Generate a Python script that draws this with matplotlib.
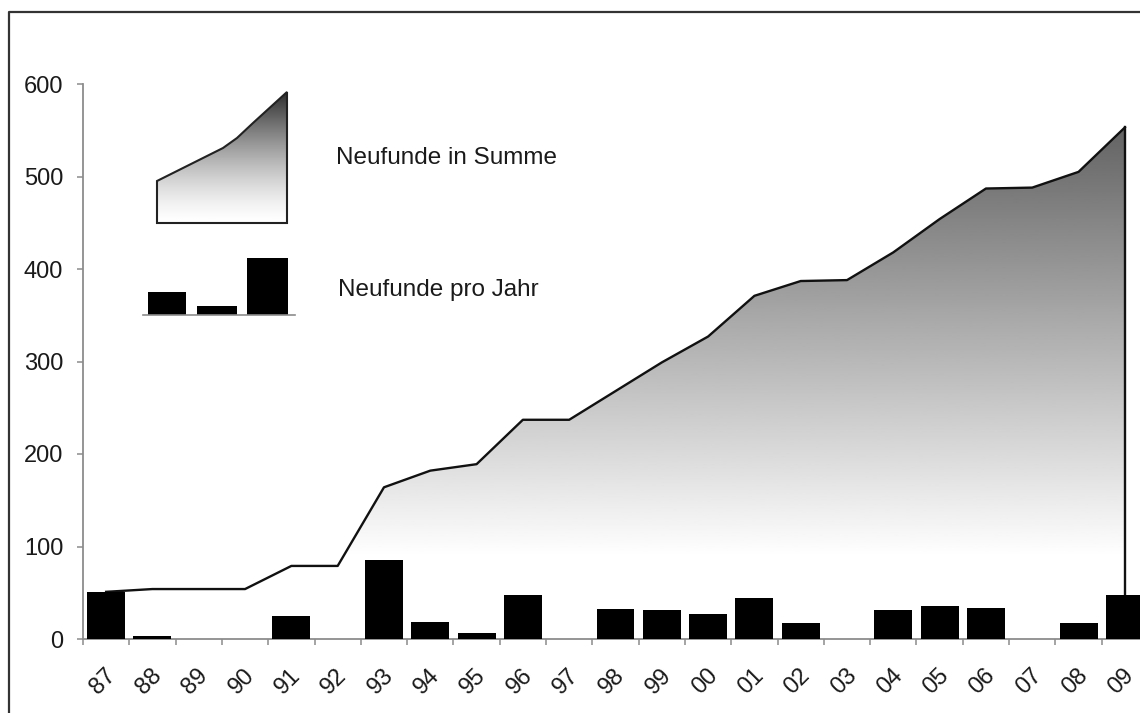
"""Neufunde pro Jahr und in Summe, 1987-2009."""

import matplotlib

matplotlib.use("Agg")
import matplotlib.pyplot as plt
import numpy as np
from matplotlib.patches import Polygon, Rectangle
from matplotlib.transforms import ScaledTranslation

plt.rcParams["font.family"] = ["Liberation Sans", "DejaVu Sans"]

years = ["87", "88", "89", "90", "91", "92", "93", "94", "95", "96", "97", "98",
         "99", "00", "01", "02", "03", "04", "05", "06", "07", "08", "09"]
per_year = [51, 3, 0, 0, 25, 0, 85, 18, 7, 48, 0, 32,
            31, 27, 44, 17, 0, 31, 36, 33, 0, 17, 48]
cumulative = [51, 54, 54, 54, 79, 79, 164, 182, 189, 237, 237, 268,
              299, 327, 371, 387, 388, 418, 454, 487, 488, 505, 553]
y_ticks = [0, 100, 200, 300, 400, 500, 600]

label_sum = "Neufunde in Summe"
label_year = "Neufunde pro Jahr"

AXIS_GREY = "#8c8c8c"
TEXT = "#1a1a1a"

fig = plt.figure(figsize=(11.4, 7.13), dpi=100)
ax = fig.add_axes([83 / 1140, 74 / 713, 1065 / 1140, 555 / 713])

x = np.arange(len(years))

# area with vertical grey gradient, clipped to the cumulative polygon
outline = list(zip(x, cumulative)) + [(x[-1], 0), (x[0], 0)]
area = Polygon(outline, closed=True, facecolor="none", edgecolor="none")
ax.add_patch(area)
levels = np.linspace(0, 600, 400)
shade = np.clip(1.0 - (levels - 90) / (560 - 90) * 0.62, 0.36, 1.0)
grad = ax.imshow(shade[:, None], extent=(-0.5, len(years) - 0.5, 0, 600),
                 origin="lower", cmap="gray", vmin=0, vmax=1, aspect="auto",
                 interpolation="bilinear", zorder=1)
grad.set_clip_path(area)
ax.plot(x, cumulative, color="#111111", linewidth=1.7, zorder=2)
ax.plot([x[-1], x[-1]], [cumulative[-1], 0], color="#111111", linewidth=1.7, zorder=2)

ax.bar(x, per_year, width=0.82, color="black", zorder=3)

ax.set_xlim(-0.5, len(years) - 0.5)
ax.set_ylim(0, 600)
for side in ("top", "right"):
    ax.spines[side].set_visible(False)
for side in ("left", "bottom"):
    ax.spines[side].set_color(AXIS_GREY)
    ax.spines[side].set_linewidth(1.3)

ax.set_yticks(y_ticks)
ax.set_yticklabels([str(v) for v in y_ticks], fontsize=17, color=TEXT)
ax.tick_params(axis="y", direction="out", length=4.3, width=1.1,
               color=AXIS_GREY, pad=10)

ax.set_xticks(np.arange(len(years) + 1) - 0.5)
ax.set_xticklabels([])
ax.tick_params(axis="x", which="major", direction="out", length=4.0, width=1.1,
               color=AXIS_GREY)
ax.set_xticks(x, minor=True)
ax.set_xticklabels(years, minor=True, fontsize=17, color=TEXT, rotation=45,
                   ha="right", va="center", rotation_mode="anchor")
ax.tick_params(axis="x", which="minor", length=0, pad=24)
shift = ScaledTranslation(6 / 100, 0, fig.dpi_scale_trans)
for lab in ax.get_xticklabels(minor=True):
    lab.set_transform(lab.get_transform() + shift)

# overlay in pixel coordinates for the frame and the hand-made legend
ov = fig.add_axes([0, 0, 1, 1], facecolor="none")
ov.set_xlim(0, 1140)
ov.set_ylim(713, 0)
ov.axis("off")

ov.plot([9, 9, 1140], [713, 12, 12], color="#333333", linewidth=1.6)

icon = [(157, 223), (157, 181), (197, 161), (223, 148), (237, 138),
        (253, 123), (287, 92), (287, 223)]
icon_patch = Polygon(icon, closed=True, facecolor="none", edgecolor="#222222",
                     linewidth=1.5, zorder=3)
ov.add_patch(icon_patch)
icon_levels = np.linspace(0, 1, 200)
icon_shade = 1.0 - 0.82 * icon_levels ** 1.4
icon_grad = ov.imshow(icon_shade[:, None], extent=(157, 287, 223, 92),
                      origin="lower", cmap="gray", vmin=0, vmax=1,
                      aspect="auto", interpolation="bilinear", zorder=2)
icon_grad.set_clip_path(icon_patch)
ov.set_xlim(0, 1140)
ov.set_ylim(713, 0)

for left, right, top in [(148, 186, 292), (197, 237, 306), (247, 288, 258)]:
    ov.add_patch(Rectangle((left, top), right - left, 315 - top,
                           facecolor="black", edgecolor="none"))
ov.plot([143, 295], [315, 315], color=AXIS_GREY, linewidth=1.2)

ov.text(336, 158, label_sum, fontsize=17.5, color=TEXT, va="center", ha="left")
ov.text(338, 290, label_year, fontsize=17.5, color=TEXT, va="center", ha="left")

fig.savefig("out.png", dpi=100, facecolor="white")
